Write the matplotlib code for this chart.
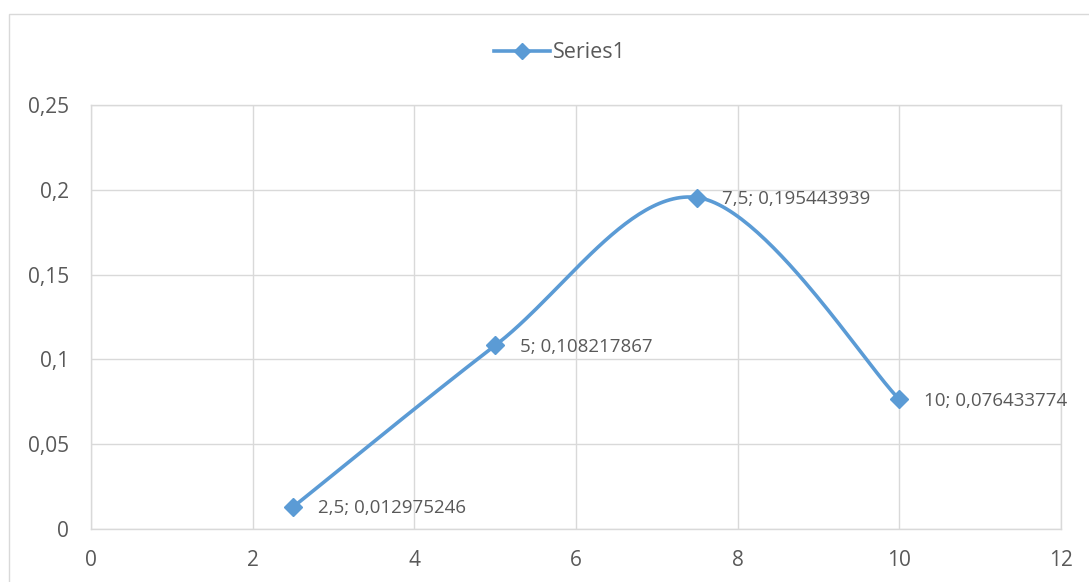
import numpy as np
import matplotlib.pyplot as plt
from matplotlib.patches import Rectangle

x_vals = [2.5, 5, 7.5, 10]
y_vals = [0.012975246, 0.108217867, 0.195443939, 0.076433774]
x_ticks = [0, 2, 4, 6, 8, 10, 12]
y_ticks = [0, 0.05, 0.1, 0.15, 0.2, 0.25]

BLUE = '#5B9BD5'
GRID = '#D9D9D9'
TEXT = '#595959'

plt.rcParams['font.family'] = ['Open Sans', 'DejaVu Sans']


def comma(v):
    s = ('%.9f' % v).rstrip('0').rstrip('.')
    return s.replace('.', ',')


def smooth_curve(xs, ys, steps=60):
    # Bezier segments with Catmull-Rom style control points (spreadsheet "smoothed line")
    px = [xs[0]] + list(xs) + [xs[-1]]
    py = [ys[0]] + list(ys) + [ys[-1]]
    out_x, out_y = [], []
    t = np.linspace(0, 1, steps)
    for i in range(1, len(px) - 2):
        p0 = np.array([px[i], py[i]])
        p3 = np.array([px[i + 1], py[i + 1]])
        p1 = p0 + (np.array([px[i + 1], py[i + 1]]) - np.array([px[i - 1], py[i - 1]])) / 6
        p2 = p3 - (np.array([px[i + 2], py[i + 2]]) - np.array([px[i], py[i]])) / 6
        b = ((1 - t) ** 3)[:, None] * p0 + (3 * (1 - t) ** 2 * t)[:, None] * p1 \
            + (3 * (1 - t) * t ** 2)[:, None] * p2 + (t ** 3)[:, None] * p3
        out_x.extend(b[:, 0])
        out_y.extend(b[:, 1])
    return out_x, out_y


fig = plt.figure(figsize=(10.89, 5.82), dpi=100)
fig.patches.append(Rectangle((9 / 1089, -0.05), 1.1, 1 - 14 / 582 + 0.05,
                             transform=fig.transFigure, fill=False,
                             edgecolor=GRID, linewidth=1))

ax = fig.add_axes([91 / 1089, 1 - 529 / 582, 970 / 1089, 424 / 582])
sx, sy = smooth_curve(x_vals, y_vals)
ax.plot(sx, sy, color=BLUE, linewidth=2.6, solid_capstyle='round', zorder=3)
ax.plot(x_vals, y_vals, linestyle='none', marker='D', markersize=9,
        color=BLUE, zorder=4)

for xv, yv in zip(x_vals, y_vals):
    ax.annotate(comma(xv) + '; ' + comma(yv), (xv, yv), xytext=(18, -1),
                textcoords='offset points', va='center', ha='left',
                fontsize=13.5, color=TEXT)

ax.set_xlim(0, 12)
ax.set_ylim(0, 0.25)
ax.set_xticks(x_ticks)
ax.set_yticks(y_ticks)
ax.set_xticklabels([comma(v) for v in x_ticks])
ax.set_yticklabels([comma(v) for v in y_ticks])
ax.tick_params(length=0, labelsize=15, labelcolor=TEXT)
ax.tick_params(axis='x', pad=15)
ax.tick_params(axis='y', pad=16)
ax.grid(True, color=GRID, linewidth=1)
ax.set_axisbelow(True)
for side in ax.spines.values():
    side.set_color(GRID)
    side.set_linewidth(1)

# legend entry: line with a diamond marker
h, = ax.plot([], [], color=BLUE, linewidth=2.6, marker='D', markersize=8)
fig.legend([h], ['Series1'], loc='center', bbox_to_anchor=(560 / 1089, 1 - 53 / 582),
           frameon=False, fontsize=15.5, labelcolor=TEXT, handlelength=2.6,
           handletextpad=0.15)

fig.savefig('out.png', dpi=100)
